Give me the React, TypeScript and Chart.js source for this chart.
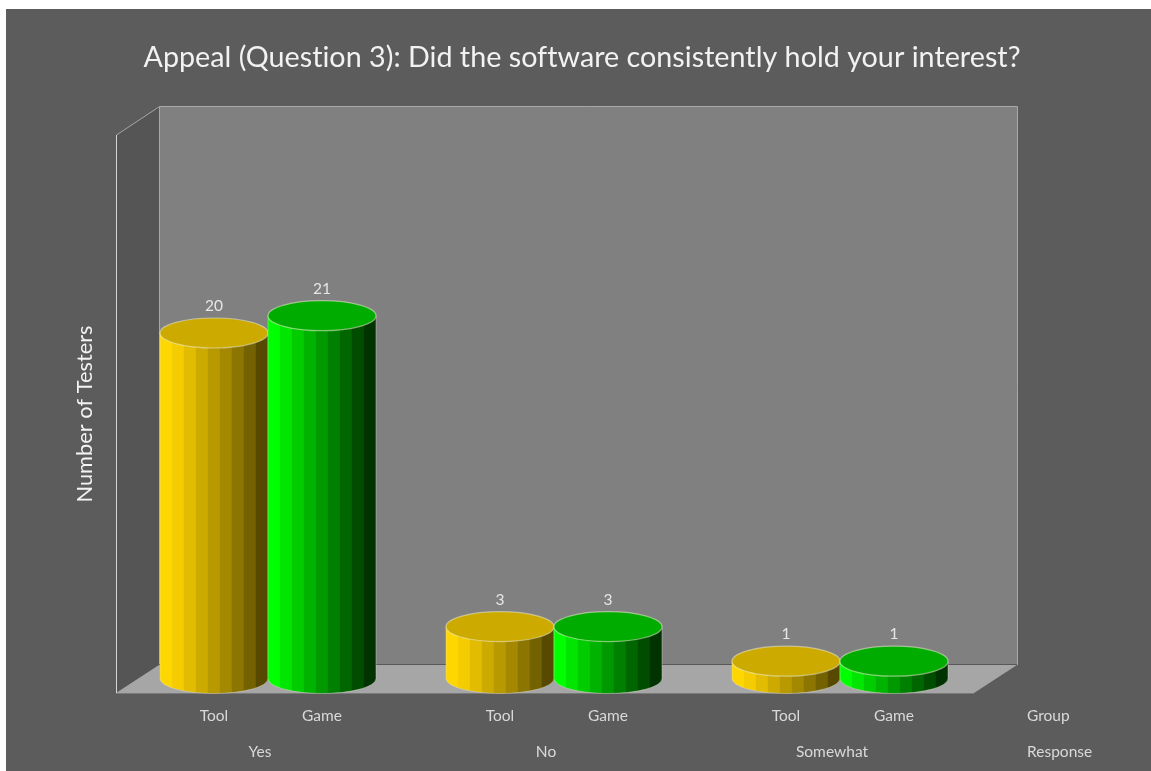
import React, { useEffect, useRef } from "react";
import { Chart, registerables } from "chart.js";

Chart.register(...registerables);

const TITLE = "Appeal (Question 3): Did the software consistently hold your interest?";
const Y_TITLE = "Number of Testers";
const responses = ["Yes", "No", "Somewhat"];
const groups = ["Tool", "Game"];
const toolValues = [20, 3, 1];
const gameValues = [21, 3, 1];
const axisNames = ["Group", "Response"];
const toolBands = ["#FFD700", "#F5CC00", "#E2BC00", "#CCAA00", "#B89900", "#A38800", "#8C7500", "#746100", "#574900"];
const gameBands = ["#00FF00", "#00E600", "#00CC00", "#00B300", "#009900", "#008000", "#006600", "#004D00", "#003300"];
const toolTop = "#CCAA00";
const gameTop = "#00AC00";

const FONT = "Lato, Carlito, sans-serif";
const TEXT = "#e6e6e6";
const DEPTH_X = 43;
const DEPTH_Y = 28;
const BAR_DX = 8;
const BAR_DY = 14.5;
const RY = 15;

const scene = {
  id: "scene",
  beforeDraw(chart: any) {
    const { ctx, width, height, chartArea: a } = chart;
    ctx.letterSpacing = "0.02px";
    ctx.save();
    ctx.fillStyle = "#ffffff";
    ctx.fillRect(0, 0, width, height);
    ctx.fillStyle = "#5c5c5c";
    ctx.fillRect(6, 9, width - 6, height - 9);

    const L = a.left - 1;
    const R = a.right - 1;
    // back wall
    ctx.fillStyle = "#808080";
    ctx.fillRect(L + DEPTH_X, a.top - DEPTH_Y - 1, a.width, a.height);
    // side wall
    ctx.fillStyle = "#555555";
    ctx.beginPath();
    ctx.moveTo(L, a.top);
    ctx.lineTo(L + DEPTH_X, a.top - DEPTH_Y - 1);
    ctx.lineTo(L + DEPTH_X, a.bottom - DEPTH_Y);
    ctx.lineTo(L, a.bottom);
    ctx.closePath();
    ctx.fill();
    // floor
    ctx.fillStyle = "#a6a6a6";
    ctx.beginPath();
    ctx.moveTo(L, a.bottom);
    ctx.lineTo(R, a.bottom);
    ctx.lineTo(R + DEPTH_X, a.bottom - DEPTH_Y);
    ctx.lineTo(L + DEPTH_X, a.bottom - DEPTH_Y);
    ctx.closePath();
    ctx.fill();

    ctx.lineWidth = 1;
    ctx.strokeStyle = "#a8a8a8";
    ctx.beginPath();
    ctx.moveTo(L + DEPTH_X + 0.5, a.top - DEPTH_Y - 0.5);
    ctx.lineTo(R + DEPTH_X + 0.5, a.top - DEPTH_Y - 0.5);
    ctx.lineTo(R + DEPTH_X + 0.5, a.bottom - DEPTH_Y);
    ctx.moveTo(L + DEPTH_X + 0.5, a.top - DEPTH_Y);
    ctx.lineTo(L + DEPTH_X + 0.5, a.bottom - DEPTH_Y);
    ctx.moveTo(L + 0.5, a.top);
    ctx.lineTo(L + DEPTH_X + 0.5, a.top - DEPTH_Y - 0.5);
    ctx.stroke();
    ctx.strokeStyle = "#d4d4d4";
    ctx.beginPath();
    ctx.moveTo(L + 0.5, a.bottom);
    ctx.lineTo(L + 0.5, a.top);
    ctx.stroke();
    ctx.strokeStyle = "#585858";
    ctx.beginPath();
    ctx.moveTo(L + DEPTH_X, a.bottom - DEPTH_Y - 0.5);
    ctx.lineTo(R + DEPTH_X, a.bottom - DEPTH_Y - 0.5);
    ctx.stroke();
    ctx.strokeStyle = "#7a7a7a";
    ctx.beginPath();
    ctx.moveTo(L, a.bottom + 0.5);
    ctx.lineTo(R, a.bottom + 0.5);
    ctx.stroke();
    ctx.restore();
  },
  afterDatasetsDraw(chart: any) {
    const { ctx, scales } = chart;
    const zero = scales.y.getPixelForValue(0) - BAR_DY;
    const count = chart.data.labels.length;
    for (let i = 0; i < count; i++) {
      chart.data.datasets.forEach((ds: any, d: number) => {
        const el = chart.getDatasetMeta(d).data[i];
        const bands = d === 0 ? toolBands : gameBands;
        const rx = el.width / 2;
        const cx = el.x + BAR_DX;
        const top = el.y - BAR_DY;
        ctx.save();
        ctx.beginPath();
        ctx.moveTo(cx - rx, top);
        ctx.lineTo(cx - rx, zero);
        ctx.ellipse(cx, zero, rx, RY, 0, Math.PI, 0, true);
        ctx.lineTo(cx + rx, top);
        ctx.closePath();
        ctx.save();
        ctx.clip();
        const w = (2 * rx) / bands.length;
        bands.forEach((c, k) => {
          ctx.fillStyle = c;
          ctx.fillRect(cx - rx + k * w - 0.2, top - 1, w + 0.4, zero - top + RY + 2);
        });
        ctx.restore();
        ctx.strokeStyle = "rgba(225,225,205,0.4)";
        ctx.lineWidth = 1;
        ctx.stroke();
        ctx.beginPath();
        ctx.ellipse(cx, top, rx, RY, 0, 0, Math.PI * 2);
        ctx.fillStyle = d === 0 ? toolTop : gameTop;
        ctx.fill();
        ctx.strokeStyle = "rgba(235,235,205,0.55)";
        ctx.lineWidth = 1.2;
        ctx.stroke();
        ctx.fillStyle = TEXT;
        ctx.font = `15.5px ${FONT}`;
        ctx.textAlign = "center";
        ctx.textBaseline = "middle";
        ctx.fillText(String(ds.data[i]), cx, top - 27);
        ctx.fillStyle = "#d9d9d9";
        ctx.fillText(groups[d], cx, scales.y.bottom + 23);
        ctx.restore();
      });
    }
    ctx.save();
    ctx.fillStyle = "#d9d9d9";
    ctx.font = `15.5px ${FONT}`;
    ctx.textAlign = "left";
    ctx.textBaseline = "middle";
    ctx.fillText(axisNames[0], 1027, 716);
    ctx.fillText(axisNames[1], 1027, 752);
    ctx.restore();
  },
};

export default function App() {
  const ref = useRef<HTMLCanvasElement>(null);
  useEffect(() => {
    const chart = new Chart(ref.current as HTMLCanvasElement, {
      type: "bar",
      plugins: [scene],
      data: {
        labels: responses,
        datasets: [
          { label: groups[0], data: toolValues, backgroundColor: "rgba(0,0,0,0)" },
          { label: groups[1], data: gameValues, backgroundColor: "rgba(0,0,0,0)" },
        ],
      },
      options: {
        responsive: false,
        animation: false,
        categoryPercentage: 0.7552,
        barPercentage: 1,
        layout: { autoPadding: false, padding: { left: 13, top: 0, right: 0, bottom: 0 } },
        plugins: {
          legend: { display: false },
          tooltip: { enabled: false },
          title: {
            display: true,
            text: TITLE,
            color: "#f2f2f2",
            font: { family: FONT, size: 28.7, weight: "normal" },
            padding: { top: 41, bottom: 59.56 },
          },
        },
        scales: {
          x: {
            grid: { display: false, drawTicks: false },
            border: { display: false },
            ticks: { color: "#d9d9d9", padding: 50, font: { family: FONT, size: 15.5 }, maxRotation: 0 },
            afterFit(s: any) { s.height = 78; },
          },
          y: {
            min: 0,
            max: 32.3,
            grid: { display: false, drawTicks: false },
            border: { display: false },
            ticks: { display: false },
            title: {
              display: true,
              text: Y_TITLE,
              color: "#f2f2f2",
              font: { family: FONT, size: 21.8, weight: "normal" },
              padding: { top: 59, bottom: 0 },
            },
            afterFit(s: any) { s.width = 104; },
          },
          y2: {
            position: "right",
            grid: { display: false, drawTicks: false },
            border: { display: false },
            ticks: { display: false },
            afterFit(s: any) { s.width = 176; },
          },
        },
      } as any,
    });
    return () => chart.destroy();
  }, []);
  return (
    <canvas
      ref={ref}
      width={1151}
      height={771}
      style={{ position: "absolute", left: 0, top: 0, display: "block" }}
    />
  );
}
